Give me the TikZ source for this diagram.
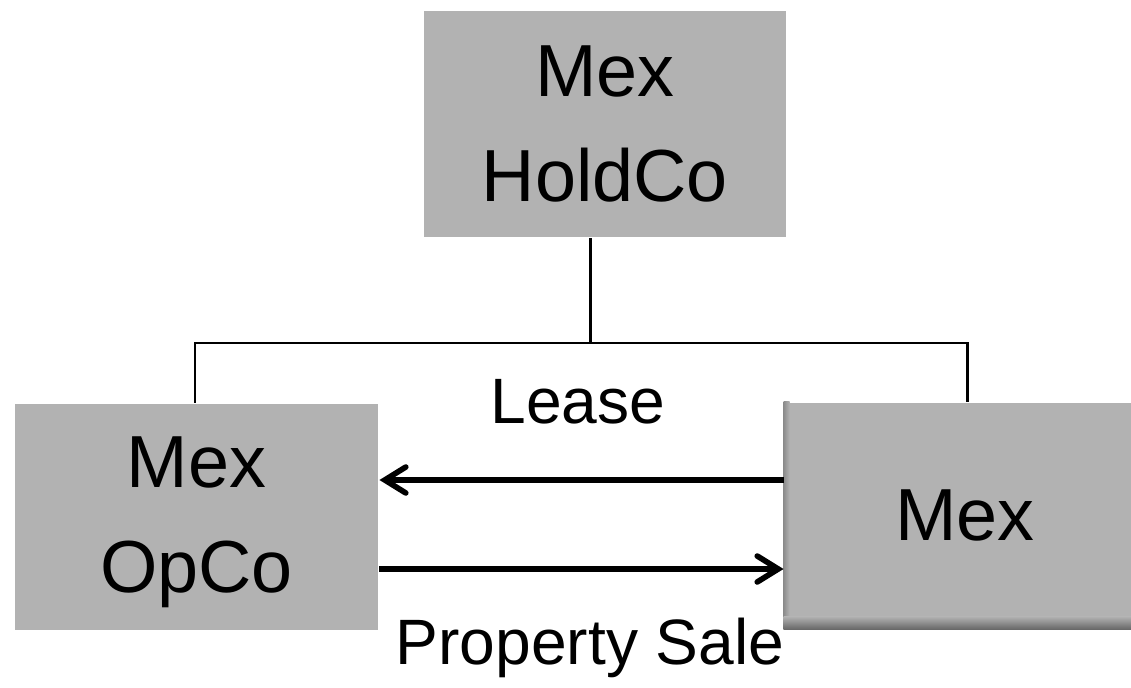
\documentclass[tikz,border=0pt]{standalone}
\usepackage{fontspec}
\setmainfont{Liberation Sans}
\usetikzlibrary{arrows.meta}
\definecolor{boxgray}{HTML}{B2B2B2}
\tikzset{every path/.style={line width=1.7pt}, co/.style={fill=boxgray, inner sep=0pt, align=center, font=\fontsize{42}{60}\selectfont}, lbl/.style={font=\fontsize{36.5}{40}\selectfont}, flow/.style={line width=3.2pt, -{Straight Barb[length=0.42cm, width=0.52cm, line cap=round]}}}

\begin{document}
\begin{tikzpicture}[x=0.02cm,y=-0.02cm]
  \useasboundingbox (0,0) rectangle (1131,688);

  \node[co, minimum width=7.24cm, minimum height=4.52cm] (hold) at (605,124) {Mex\\HoldCo};
  \node[co, minimum width=7.26cm, minimum height=4.52cm] (opco) at (196.5,517) {};
  \node[co, fill=none] (opcotxt) at ([yshift=-0.1cm]opco.center) {Mex\\OpCo};
  \node[co, minimum width=6.92cm, minimum height=4.5cm, text width=6.92cm] (mex) at (958,515.5) {\hspace*{0.28cm}Mex};

  % shadow on the right box
  \shade[left color=black!45, right color=boxgray] (mex.south west) rectangle ([xshift=0.12cm]mex.north west);
  \shade[top color=boxgray, bottom color=black!60] ([yshift=0.26cm]mex.south west) rectangle (mex.south east);

  \coordinate (j) at (590,343);
  \coordinate (lft) at (195,343);
  \coordinate (rgt) at (967,343);
  \coordinate (la) at (0,480);
  \coordinate (ps) at (0,569);

  \draw (hold.south -| j) -- (j);
  \draw (opco.north -| lft) -- (lft) -- (rgt) -- (mex.north -| rgt);

  \draw[flow] (mex.west |- la) -- (opco.east |- la);
  \draw[flow] (opco.east |- ps) -- (mex.west |- ps);

  \node[lbl] (lease) at (578,402) {Lease};
  \node[lbl] (sale) at (590,648) {Property Sale};
 \end{tikzpicture}
\end{document}
